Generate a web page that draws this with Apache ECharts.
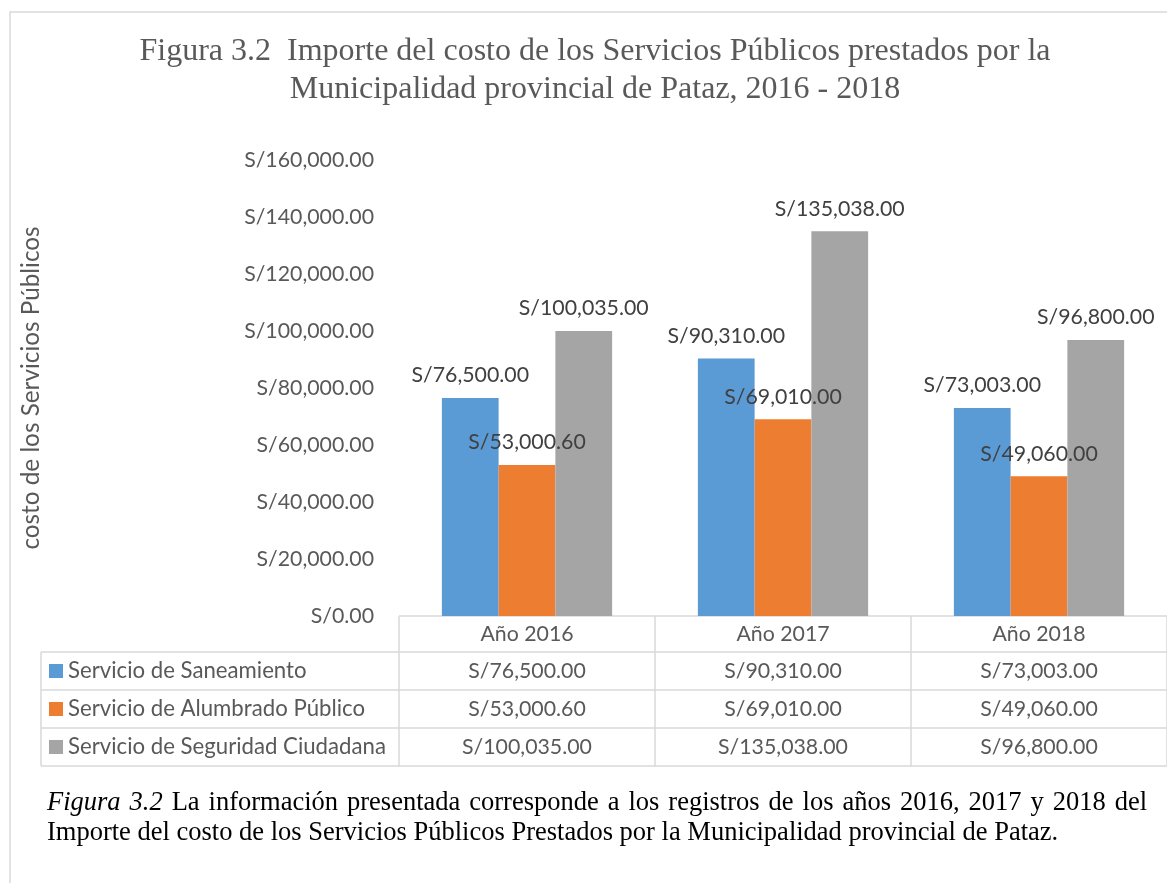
<!DOCTYPE html>
<html>
<head>
<meta charset="utf-8">
<script src="https://cdn.jsdelivr.net/npm/echarts@6/dist/echarts.min.js"></script>
<style>
  html, body { margin: 0; padding: 0; background: #fff; }
  #container { width: 1167px; height: 883px; }
</style>
</head>
<body>
<div id="container"></div>
<script>
var dom = document.getElementById("container");
var myChart = echarts.init(dom);

// datos
var categories = ['Año 2016', 'Año 2017', 'Año 2018'];
var seriesNames = ['Servicio de Saneamiento', 'Servicio de Alumbrado Público', 'Servicio de Seguridad Ciudadana'];
var saneamiento = [76500.00, 90310.00, 73003.00];
var alumbrado = [53000.60, 69010.00, 49060.00];
var seguridad = [100035.00, 135038.00, 96800.00];
var colors = ['#5b9bd5', '#ed7d31', '#a5a5a5'];
var yMin = 0, yMax = 160000, yStep = 20000;

var titleLines = [
    'Figura 3.2  Importe del costo de los Servicios Públicos prestados por la',
    'Municipalidad provincial de Pataz, 2016 - 2018'
];
var captionLabel = 'Figura 3.2';
var captionLine1 = 'La información presentada corresponde a los registros de los años 2016, 2017 y 2018 del';
var captionLine2 = 'Importe del costo de los Servicios Públicos Prestados por la Municipalidad provincial de Pataz.';

var sans = 'Lato';
var serif = '"Liberation Serif", "Times New Roman", serif';
var fs = 21.3;

function soles(v) {
    return 'S/' + v.toLocaleString('en-US', {minimumFractionDigits: 2, maximumFractionDigits: 2});
}

var allData = [saneamiento, alumbrado, seguridad];

option = {
    animation: false,
    grid: {left: 399, top: 160, width: 777, height: 456},
    xAxis: {
        type: 'category',
        data: categories,
        axisLine: {show: false},
        axisTick: {show: false},
        axisLabel: {show: false}
    },
    yAxis: {
        type: 'value',
        min: yMin,
        max: yMax,
        interval: yStep,
        splitLine: {show: false},
        axisLine: {show: false},
        axisTick: {show: false},
        axisLabel: {
            formatter: soles,
            color: '#595959',
            fontFamily: sans,
            fontSize: fs,
            margin: 25
        },
        name: 'costo de los Servicios Públicos',
        nameLocation: 'middle',
        nameGap: 356,
        nameTextStyle: {color: '#595959', fontFamily: sans, fontSize: 24.3}
    },
    series: allData.map(function (d, i) {
        return {
            type: 'bar',
            name: seriesNames[i],
            data: d,
            barGap: 0,
            barCategoryGap: '33.5%',
            itemStyle: {color: colors[i]},
            label: {
                show: true,
                position: 'top',
                distance: 12,
                formatter: function (p) { return soles(p.value); },
                color: '#404040',
                fontFamily: sans,
                fontSize: fs
            }
        };
    })
};
myChart.setOption(option, true);

// tabla de datos, marco, titulo y nota
var c0 = myChart.convertToPixel({xAxisIndex: 0}, 0);
var c1 = myChart.convertToPixel({xAxisIndex: 0}, 1);
var band = c1 - c0;
var axisY = myChart.convertToPixel({yAxisIndex: 0}, 0);
var rowH = 38;
var headTop = axisY, headH = 36;
var tableLeft = 41;
var lineColor = '#d9d9d9';
var g = [];

// marco del grafico
g.push({type: 'rect', shape: {x: 10, y: 12, width: 1300, height: 1000}, style: {fill: null, stroke: lineColor, lineWidth: 1.5}});

// titulo
titleLines.forEach(function (t, i) {
    g.push({type: 'text', x: 595, y: 52 + i * 38, style: {text: t, fill: '#595959', font: '32px ' + serif, align: 'center', verticalAlign: 'middle'}});
});

// cabecera de la tabla
var left0 = c0 - band / 2;
var rowsTop = headTop + headH;
var tableBottom = rowsTop + rowH * 3;
g.push({type: 'line', shape: {x1: left0, y1: headTop, x2: 1300, y2: headTop}, style: {stroke: lineColor, lineWidth: 1.5}});
for (var r = 0; r <= 3; r++) {
    g.push({type: 'line', shape: {x1: tableLeft, y1: rowsTop + r * rowH, x2: 1300, y2: rowsTop + r * rowH}, style: {stroke: lineColor, lineWidth: 1.5}});
}
g.push({type: 'line', shape: {x1: tableLeft, y1: rowsTop, x2: tableLeft, y2: tableBottom}, style: {stroke: lineColor, lineWidth: 1.5}});
for (var k = 0; k <= categories.length; k++) {
    var xb = left0 + k * band;
    g.push({type: 'line', shape: {x1: xb, y1: headTop, x2: xb, y2: tableBottom}, style: {stroke: lineColor, lineWidth: 1.5}});
}
categories.forEach(function (cat, i) {
    var cx = myChart.convertToPixel({xAxisIndex: 0}, i);
    g.push({type: 'text', x: cx, y: headTop + headH / 2, style: {text: cat, fill: '#595959', font: fs + 'px ' + sans, align: 'center', verticalAlign: 'middle'}});
    allData.forEach(function (d, s) {
        g.push({type: 'text', x: cx, y: rowsTop + s * rowH + rowH / 2, style: {text: soles(d[i]), fill: '#595959', font: fs + 'px ' + sans, align: 'center', verticalAlign: 'middle'}});
    });
});
seriesNames.forEach(function (n, s) {
    var cy = rowsTop + s * rowH + rowH / 2;
    g.push({type: 'rect', shape: {x: 49, y: cy - 7, width: 14, height: 14}, style: {fill: colors[s]}});
    g.push({type: 'text', x: 68, y: cy, style: {text: n, fill: '#595959', font: '22.2px ' + sans, align: 'left', verticalAlign: 'middle'}});
});

// nota al pie, primera linea justificada
var capFs = 26.5;
var ctx = document.createElement('canvas').getContext('2d');
var words = captionLabel.split(' ').map(function (w) { return {t: w, it: true}; })
    .concat(captionLine1.split(' ').map(function (w) { return {t: w, it: false}; }));
var total = 0;
words.forEach(function (w) {
    w.font = (w.it ? 'italic ' : '') + capFs + 'px ' + serif;
    ctx.font = w.font;
    w.w = ctx.measureText(w.t).width;
    total += w.w;
});
var capLeft = 47, capRight = 1147;
var gap = (capRight - capLeft - total) / (words.length - 1);
var wx = capLeft;
words.forEach(function (w) {
    g.push({type: 'text', x: wx, y: 803, style: {text: w.t, fill: '#000', font: w.font, align: 'left', verticalAlign: 'middle'}});
    wx += w.w + gap;
});
g.push({type: 'text', x: capLeft, y: 833, style: {text: captionLine2, fill: '#000', font: capFs + 'px ' + serif, align: 'left', verticalAlign: 'middle'}});

myChart.setOption({graphic: g});
</script>
</body>
</html>
